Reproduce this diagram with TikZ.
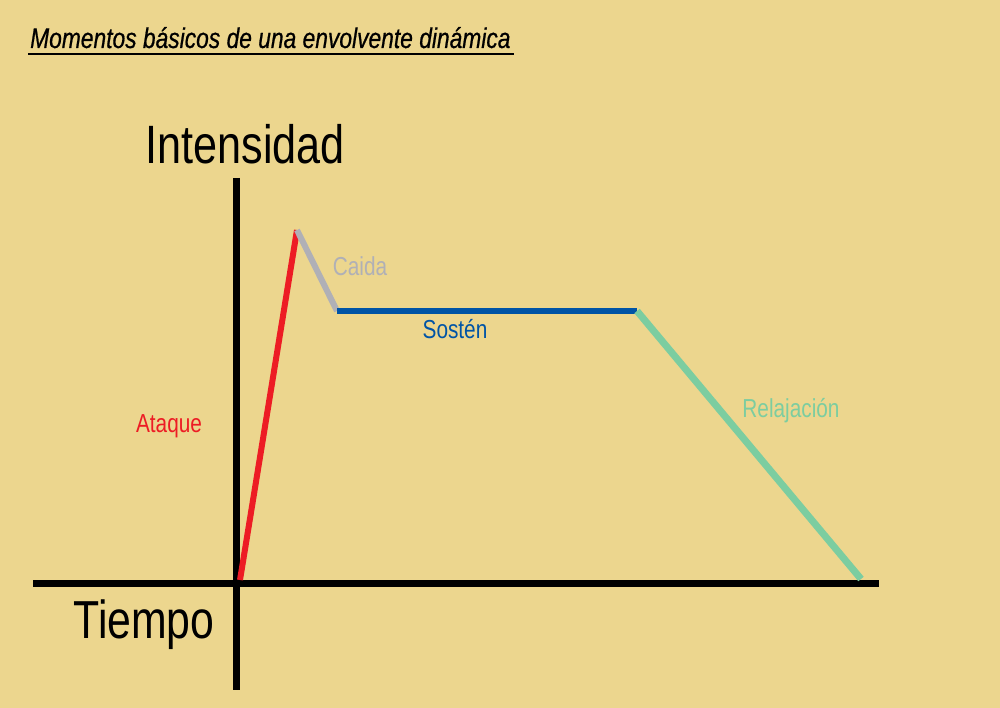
\documentclass[tikz,border=0pt]{standalone}
\usepackage{fontspec}
\setmainfont{Liberation Sans}
\newfontfamily\estrecha[FakeStretch=0.8]{Liberation Sans}
\newfontfamily\titular[FakeStretch=0.8,FakeBold=0.6]{Liberation Sans}
\usepackage{tikz}
\usetikzlibrary{positioning,calc}

\definecolor{fondo}{RGB}{236,214,142}
\definecolor{rojo}{RGB}{237,28,36}
\definecolor{gris}{RGB}{176,176,182}
\definecolor{azul}{RGB}{0,84,166}
\definecolor{verde}{RGB}{124,205,160}

\begin{document}
\begin{tikzpicture}[x=1pt,y=-1pt,
    eje/.style={line width=7pt,black},
    tramo/.style={line width=6pt},
    etiqueta/.style={font=\estrecha\fontsize{26}{30}\selectfont,inner sep=0pt,anchor=base}]

  % ------- fondo y marco -------
  \fill[fondo] (0,0) rectangle (1000,708);
  \useasboundingbox (0,0) rectangle (1000,708);

  % ------- título subrayado -------
  \node[font=\titular\itshape\fontsize{28.5}{33}\selectfont,inner sep=0pt,anchor=base west]
    (titulo) at (30,48) {Momentos básicos de una envolvente dinámica};
  \draw[line width=2.4pt] ($(titulo.base west)+(-2,6)$) -- ($(titulo.base east)+(3,6)$);

  %================= ejes =================
  \coordinate (ejeYarriba) at (236,178);
  \coordinate (ejeYabajo)  at (236,690);
  \coordinate (ejeXizq)    at (33,583);
  \coordinate (ejeXder)    at (879,583);
  \draw[eje] (ejeYarriba) -- (ejeYabajo);
  \draw[eje] (ejeXizq) -- (ejeXder);

  \node[font=\estrecha\fontsize{54}{60}\selectfont,inner sep=0pt,anchor=base]
    (intensidad) at (245,164) {Intensidad};
  \node[font=\estrecha\fontsize{53.5}{60}\selectfont,inner sep=0pt,anchor=base]
    (tiempo) at (144,638) {Tiempo};

  %================= envolvente =================
  \coordinate (inicio) at (240,580);
  \coordinate (pico)   at (297,230);
  \coordinate (sosten) at (337,311);
  \coordinate (final)  at (637,311);
  \coordinate (cero)   at (861,579);

  \draw[tramo,rojo]  (inicio) -- (pico);    % ataque
  \draw[tramo,gris]  (pico) -- (sosten);    % caída
  \draw[tramo,azul]  (sosten) -- (final);   % sostén
  \draw[tramo,verde,line width=7pt] (final) -- (cero); % relajación

  % ---- nombres de cada momento ----
  \node[etiqueta,text=rojo]  (ataque)     at (169,432) {Ataque};
  \node[etiqueta,text=gris]  (caida)      at (360,276) {Caida};
  \node[etiqueta,text=azul]  (sostenlab)  at (455,338) {Sostén};
  \node[etiqueta,text=verde] (relajacion) at (791,417) {Relajación};

\end{tikzpicture}
\end{document}
